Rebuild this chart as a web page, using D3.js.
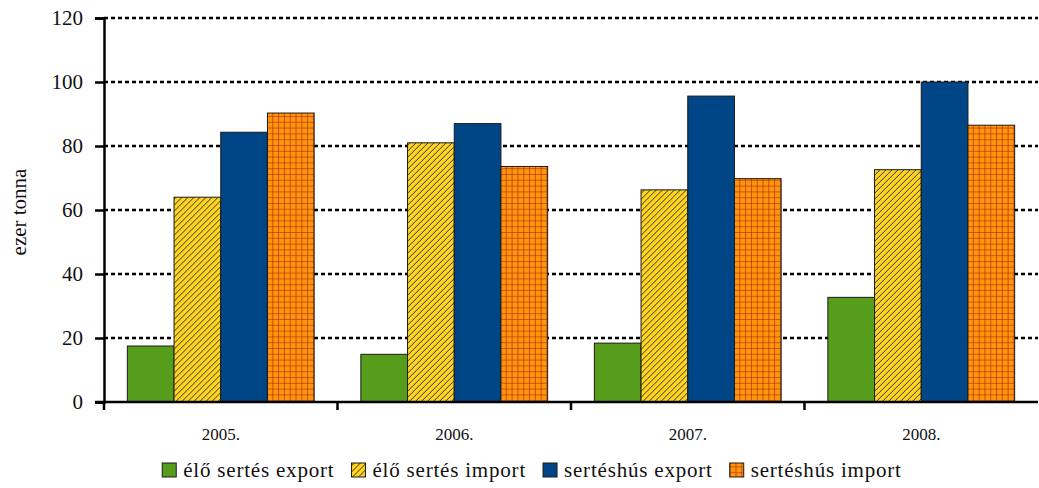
<!DOCTYPE html>
<html>
<head>
<meta charset="utf-8">
<script src="https://cdn.jsdelivr.net/npm/d3@7"></script>
<style>
  body { margin: 0; background: #fff; }
  text { font-family: "Liberation Serif", "Times New Roman", serif; fill: #111; }
</style>
</head>
<body>
<div id="chart"></div>
<script>
// data
var years = ['2005.', '2006.', '2007.', '2008.'];
var series = ['élő sertés export', 'élő sertés import', 'sertéshús export', 'sertéshús import'];
var eloExport = [17.5, 14.9, 18.4, 32.7];
var eloImport = [64.0, 81.0, 66.3, 72.6];
var husExport = [84.3, 87.0, 95.6, 100.0];
var husImport = [90.3, 73.6, 69.8, 86.5];
var yTicks = [0, 20, 40, 60, 80, 100, 120];

var values = [eloExport, eloImport, husExport, husImport];
var fills = ['#579d1c', 'url(#hatch)', '#004586', 'url(#grid)'];

var width = 1039, height = 488;
var mLeft = 104, mRight = 1038, mTop = 18, mBottom = 402;

var svg = d3.select('#chart').append('svg')
  .attr('width', width)
  .attr('height', height);

// patterns
var defs = svg.append('defs');
var hatch = defs.append('pattern')
  .attr('id', 'hatch')
  .attr('patternUnits', 'userSpaceOnUse')
  .attr('width', 6).attr('height', 6);
hatch.append('rect').attr('width', 6).attr('height', 6).attr('fill', '#ffd320');
hatch.append('path')
  .attr('d', 'M0,6 L6,0 M-1,1 L1,-1 M5,7 L7,5')
  .attr('stroke', '#222').attr('stroke-width', 0.9);

var grid = defs.append('pattern')
  .attr('id', 'grid')
  .attr('patternUnits', 'userSpaceOnUse')
  .attr('width', 5.8).attr('height', 5.8);
grid.append('rect').attr('width', 5.8).attr('height', 5.8).attr('fill', '#ff950e');
grid.append('path')
  .attr('d', 'M0,0 L5.8,0 M0,0 L0,5.8')
  .attr('stroke', '#9b1a00').attr('stroke-width', 1.1);

var x0 = d3.scaleBand().domain(years).range([mLeft, mRight]).paddingInner(0.2).paddingOuter(0.1);
var x1 = d3.scaleBand().domain(series).range([0, x0.bandwidth()]);
var y = d3.scaleLinear().domain([0, 120]).range([mBottom, mTop]);

// gridlines
svg.append('g')
  .selectAll('line')
  .data(yTicks.filter(function(d) { return d > 0; }))
  .enter().append('line')
  .attr('x1', mLeft).attr('x2', mRight)
  .attr('y1', function(d) { return y(d); })
  .attr('y2', function(d) { return y(d); })
  .attr('stroke', '#000')
  .attr('stroke-width', 2.5)
  .attr('stroke-dasharray', '4,3');

// bars
var groups = svg.append('g')
  .selectAll('g')
  .data(years)
  .enter().append('g')
  .attr('transform', function(d) { return 'translate(' + x0(d) + ',0)'; });

groups.selectAll('rect')
  .data(function(d, i) {
    return series.map(function(s, j) { return { key: s, idx: j, value: values[j][i] }; });
  })
  .enter().append('rect')
  .attr('x', function(d) { return x1(d.key); })
  .attr('y', function(d) { return y(d.value); })
  .attr('width', x1.bandwidth())
  .attr('height', function(d) { return y(0) - y(d.value); })
  .attr('fill', function(d) { return fills[d.idx]; })
  .attr('stroke', '#1a1a1a')
  .attr('stroke-width', 1);

// y axis
var yAxis = svg.append('g')
  .attr('transform', 'translate(' + mLeft + ',0)')
  .call(d3.axisLeft(y).tickValues(yTicks).tickSize(9).tickPadding(12));
yAxis.select('.domain').attr('stroke', '#000').attr('stroke-width', 2.5);
yAxis.selectAll('.tick line').attr('stroke', '#000').attr('stroke-width', 2.5);
yAxis.selectAll('.tick text')
  .style('font-family', '"Liberation Serif", serif')
  .style('font-size', '21px')
  .attr('fill', '#111');

// x axis with ticks at band boundaries
var xAxis = svg.append('g')
  .attr('transform', 'translate(0,' + mBottom + ')');
xAxis.append('line')
  .attr('x1', mLeft - 9).attr('x2', mRight)
  .attr('stroke', '#000').attr('stroke-width', 2.5);
var step = x0.step();
xAxis.selectAll('line.tk')
  .data(years)
  .enter().append('line')
  .attr('class', 'tk')
  .attr('x1', function(d) { return x0(d) - step * 0.1; })
  .attr('x2', function(d) { return x0(d) - step * 0.1; })
  .attr('y1', 0).attr('y2', 8)
  .attr('stroke', '#000').attr('stroke-width', 2.5);
xAxis.selectAll('text')
  .data(years)
  .enter().append('text')
  .attr('x', function(d) { return x0(d) + x0.bandwidth() / 2; })
  .attr('y', 38)
  .attr('text-anchor', 'middle')
  .style('font-size', '17px')
  .text(function(d) { return d; });

// y title
svg.append('text')
  .attr('transform', 'translate(26,212) rotate(-90)')
  .attr('text-anchor', 'middle')
  .style('font-size', '21px')
  .text('ezer tonna');

// legend
var legend = svg.append('g');
var lx = 0;
series.forEach(function(s, i) {
  var item = legend.append('g').attr('transform', 'translate(' + lx + ',0)');
  item.append('rect')
    .attr('x', 0).attr('y', -15)
    .attr('width', 14).attr('height', 14)
    .attr('fill', fills[i])
    .attr('stroke', '#1a1a1a').attr('stroke-width', 1);
  var t = item.append('text')
    .attr('x', 21).attr('y', -1)
    .style('font-size', '21px')
    .style('letter-spacing', '0.8px')
    .text(s);
  lx += 21 + t.node().getComputedTextLength() + 17;
});
legend.attr('transform', 'translate(' + (532 - (lx - 17) / 2) + ',478)');
</script>
</body>
</html>
